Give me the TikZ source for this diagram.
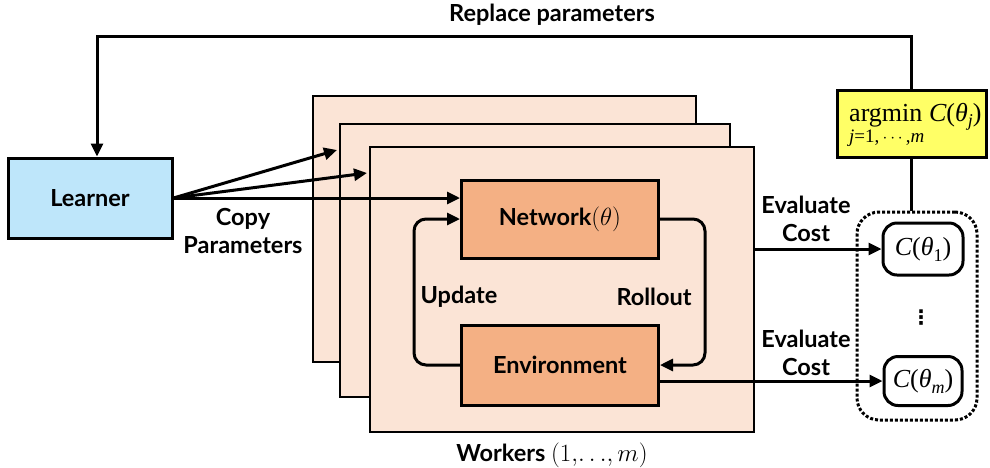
\documentclass[tikz,border=0pt]{standalone}
\usepackage{fontspec}
\setmainfont{Lato}
\newfontfamily\mf{Liberation Serif}
\newfontfamily\dv{DejaVu Sans}
\usetikzlibrary{arrows.meta}
\definecolor{lblue}{RGB}{190,230,250}
\definecolor{wfill}{RGB}{251,228,214}
\definecolor{nfill}{RGB}{244,176,132}
\definecolor{yfill}{RGB}{255,255,102}
\newcommand{\mi}[1]{{\mf\mdseries\itshape #1}}
\newcommand{\mr}[1]{{\mf\mdseries\upshape #1}}
\tikzset{
  base/.style={font=\bfseries\fontsize{23.5}{28}\selectfont},
  thickbox/.style={draw, line width=3pt, inner sep=0pt},
  worker/.style={draw, line width=1.5pt, fill=wfill, inner sep=0pt},
  arr/.style={line width=3pt, -{Triangle[length=13pt,width=12pt]}},
  ln/.style={line width=3pt},
  lbl/.style={align=center, font=\bfseries\fontsize{23.5}{28}\selectfont},
  cbox/.style={draw, line width=3pt, rounded corners=14pt, fill=white, inner sep=0pt},
}
\begin{document}
\begin{tikzpicture}[x=1pt,y=-1pt]
\useasboundingbox (0,0) rectangle (990,467);
% workers
\node[worker, minimum width=383pt, minimum height=266pt] (wb) at (504.5,229) {};
\node[worker, minimum width=390pt, minimum height=273pt] (wm) at (535,260.5) {};
\node[worker, minimum width=384pt, minimum height=285pt] (wf) at (562,289.5) {};
% learner
\node[thickbox, fill=lblue, minimum width=164pt, minimum height=80pt, base] (L) at (90,198) {Learner};
% network / environment
\node[thickbox, fill=nfill, minimum width=197pt, minimum height=78pt, base] (N) at (560,219) {Network$(\theta)$};
\node[thickbox, fill=nfill, minimum width=197pt, minimum height=80pt, base] (E) at (560,365) {Environment};
% argmin
\node[thickbox, fill=yfill, minimum width=149pt, minimum height=67pt, anchor=center] (A) at (911.5,123.5) {};
\node[anchor=base west, inner sep=0pt, font=\fontsize{26}{26}\selectfont] (At) at (849,121) {\mr{argmin} \mi{C}\mr{(}\mi{θ}\raisebox{-5pt}{\fontsize{18}{18}\selectfont\mi{j}}\mr{)}};
\node[anchor=base west, inner sep=0pt, font=\fontsize{19}{19}\selectfont] (As) at (849,142) {\mi{j}\mr{=1,}\,$\cdots$\,\mr{,}\mi{m}};
% dotted group
\node[draw, dotted, line width=3pt, rounded corners=22pt, minimum width=120pt, minimum height=208pt] (D) at (917,316) {};
\node[cbox, minimum width=80pt, minimum height=52pt, font=\fontsize{26}{26}\selectfont] (C1) at (923,249) {\mi{C}\mr{(}\mi{θ}\raisebox{-6pt}{\fontsize{18}{18}\selectfont\mr{1}}\mr{)}};
\node[cbox, minimum width=78pt, minimum height=49pt, font=\fontsize{26}{26}\selectfont] (Cm) at (923,381) {\mi{C}\mr{(}\mi{θ}\raisebox{-6pt}{\fontsize{18}{18}\selectfont\mi{m}}\mr{)}};
\node[font=\bfseries\fontsize{20}{20}\selectfont\dv, inner sep=0pt] (vd) at (921,318) {⋮};
% labels
\node[lbl] (rp) at (552,15) {Replace parameters};
\node[lbl] (cp) at (243,231) {Copy\\Parameters};
\node[lbl] (ev1) at (806,219) {Evaluate\\Cost};
\node[lbl] (ev2) at (806,353) {Evaluate\\Cost};
\node[lbl] (up) at (459,297) {Update};
\node[lbl] (ro) at (654,297) {Rollout};
\node[lbl] (wk) at (552,455) {Workers $(1,\!\ldots\!,m)$};
% connectors
\coordinate (tl) at (97,36);
\draw[arr] (A.north) |- (tl) -- (tl |- L.north);
\draw[ln] (A.south) -- (A.south |- D.north);
\coordinate (p1) at (337,150);
\coordinate (p2) at (367,173);
\draw[arr] (L.east) -- (p1);
\draw[arr] (L.east) -- (p2);
\draw[arr] (L.east) -- (L.east -| N.west);
\coordinate (ux) at (414,300);
\coordinate (rx) at (705,300);
\draw[arr, rounded corners=12pt] (E.west) -| (ux) |- (N.west);
\draw[arr, rounded corners=12pt] (N.east) -| (rx) |- (E.east);
\draw[arr] (C1.west -| wf.east) -- (C1.west);
\draw[arr] (Cm.west -| E.east) -- (Cm.west);
\end{tikzpicture}
\end{document}
